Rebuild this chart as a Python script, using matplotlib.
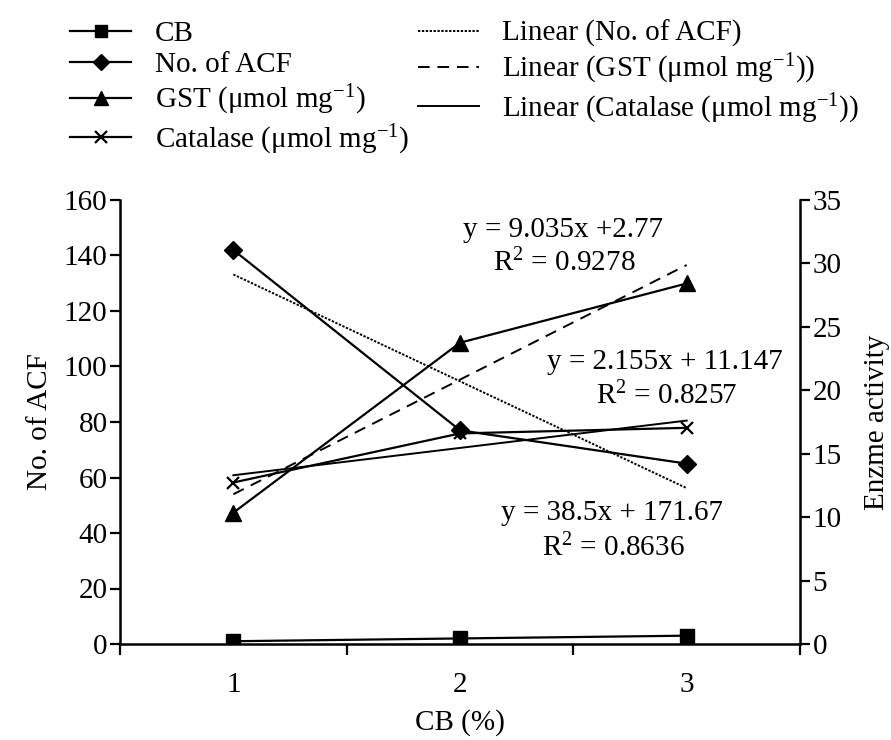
import matplotlib
matplotlib.use("Agg")
import matplotlib.pyplot as plt
import numpy as np

plt.rcParams['font.family'] = ['Liberation Serif', 'DejaVu Serif']
plt.rcParams['mathtext.fontset'] = 'custom'
plt.rcParams['mathtext.rm'] = 'Liberation Serif'
plt.rcParams['mathtext.it'] = 'Liberation Serif:italic'

# data
x_cats = [1, 2, 3]
cb = [1, 2, 3]
acf = [142, 77, 65]
gst = [10.35, 23.75, 28.42]
catalase = [12.73, 16.60, 17.04]
x_ticklabels = ["1", "2", "3"]

FS = 21
fig = plt.figure(figsize=(8.91, 7.40), dpi=100)
ax = fig.add_axes([120/891, 1-644/740, 680/891, 444/740])
ax2 = ax.twinx()

lw = 1.6
h_cb, = ax.plot(x_cats, cb, color='black', lw=lw, marker='s', ms=10, label='CB')
h_acf, = ax.plot(x_cats, acf, color='black', lw=lw, marker='D', ms=9, label='No. of ACF')
h_gst, = ax2.plot(x_cats, gst, color='black', lw=lw, marker='^', ms=11,
                  label='GST (μmol mg$^{-1}$)')
h_cat, = ax2.plot(x_cats, catalase, color='black', lw=lw, marker='x', ms=9, mew=1.6,
                  label='Catalase (μmol mg$^{-1}$)')

xs = np.array(x_cats, dtype=float)
p_acf = np.polyfit(xs, acf, 1)
p_gst = np.polyfit(xs, gst, 1)
p_cat = np.polyfit(xs, catalase, 1)
xl = np.array([1.0, 3.0])
h_lacf, = ax.plot(xl, np.polyval(p_acf, xl), color='black', lw=1.4, ls=(0, (1.2, 0.8)),
                  label='Linear (No. of ACF)')
h_lgst, = ax2.plot(xl, np.polyval(p_gst, xl), color='black', lw=1.4, ls=(0, (6, 4)),
                   label='Linear (GST (μmol mg$^{-1}$))')
h_lcat, = ax2.plot(xl, np.polyval(p_cat, xl), color='black', lw=1.4, ls='-',
                   label='Linear (Catalase (μmol mg$^{-1}$))')

ax.set_xlim(0.5, 3.5)
ax.set_ylim(0, 160)
ax2.set_ylim(0, 35)
ax.set_yticks(np.arange(0, 161, 20))
ax2.set_yticks(np.arange(0, 36, 5))
ax.set_xticks([0.5, 1.5, 2.5, 3.5])
ax.set_xticklabels([])
ax.set_xticks(x_cats, minor=True)
ax.set_xticklabels(x_ticklabels, minor=True)
ax.tick_params(axis='x', which='minor', length=0, pad=20, labelsize=FS)
ax.tick_params(axis='x', which='major', direction='out', length=8, width=1.6)
ax.tick_params(axis='y', direction='out', length=7, width=1.6, labelsize=FS, pad=2)
ax2.tick_params(axis='y', direction='out', length=7, width=1.6, labelsize=FS, pad=2)

for a in (ax, ax2):
    a.spines['top'].set_visible(False)
    for s in ('left', 'right', 'bottom'):
        a.spines[s].set_linewidth(1.8)
ax.spines['right'].set_visible(False)
ax2.spines['left'].set_visible(False)
ax2.spines['bottom'].set_visible(False)

ax.set_xlabel('CB (%)', fontsize=FS, labelpad=8)
ax.set_ylabel('No. of ACF', fontsize=FS, labelpad=8)
ax2.set_ylabel('Enzme activity', fontsize=FS, labelpad=16)

def t(xp, yp, s):
    ax.text(xp, yp, s, fontsize=FS, ha='center', va='center')

def px(xpix):
    return 0.5 + (xpix - 120) / (680 / 3)

def py(ypix):
    return (644 - ypix) / (444 / 160)

t(px(563), py(230), 'y = 9.035x +2.77')
t(px(564), py(263), r'R$^2$ = 0.9278')
t(px(665), py(362), 'y = 2.155x + 11.147')
t(px(666), py(396), r'R$^2$ = 0.8257')
t(px(612), py(513), 'y = 38.5x + 171.67')
t(px(613), py(548), r'R$^2$ = 0.8636')

handles = [h_cb, h_acf, h_gst, h_cat, h_lacf, h_lgst, h_lcat]
fig.legend(handles=handles, labels=[h.get_label() for h in handles], ncol=2,
           loc='upper left', bbox_to_anchor=(70/891, 1 - 20/740), frameon=False,
           fontsize=FS, handlelength=2.1, handletextpad=0.8, columnspacing=0.3,
           labelspacing=0.17, borderpad=0, borderaxespad=0, markerscale=0.9)

fig.savefig('out.png', dpi=100)
